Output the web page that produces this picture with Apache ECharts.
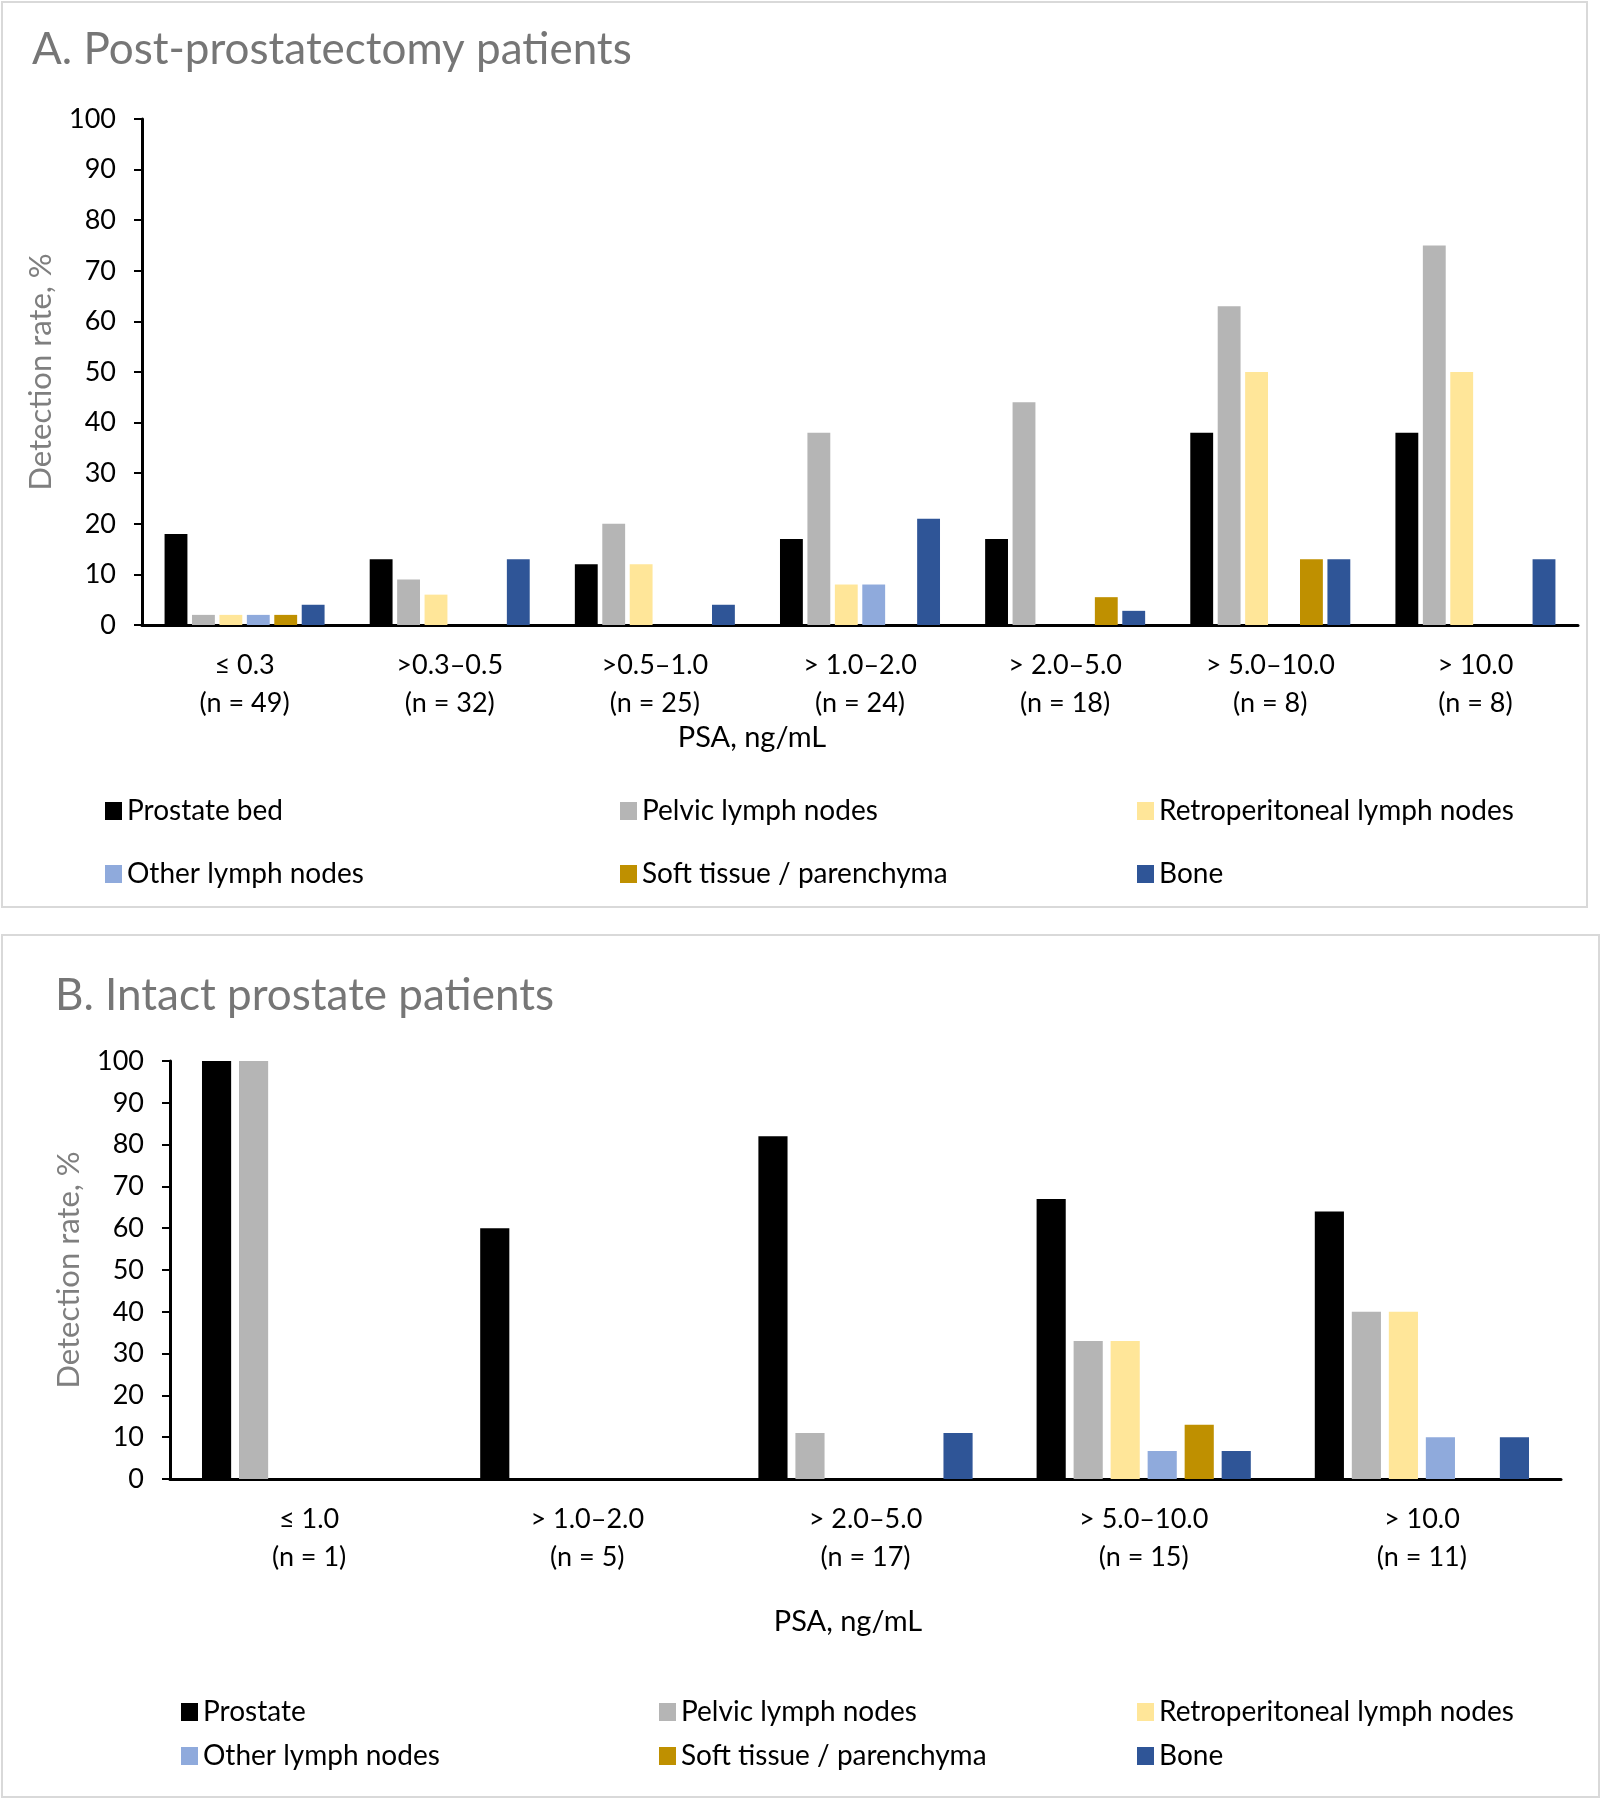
<!DOCTYPE html>
<html>
<head>
<meta charset="utf-8">
<script src="https://cdn.jsdelivr.net/npm/echarts@6/dist/echarts.min.js"></script>
<style>html,body{margin:0;padding:0;background:#fff}#c{width:1601px;height:1800px}</style>
</head>
<body>
<div id="c"></div>
<script>
// ---------- Data ----------
const rangesA = ['≤ 0.3', '>0.3–0.5', '>0.5–1.0', '> 1.0–2.0', '> 2.0–5.0', '> 5.0–10.0', '> 10.0'];
const nA = [49, 32, 25, 24, 18, 8, 8];
const prostateBedA = [18, 13, 12, 17, 17, 38, 38];
const pelvicA      = [2, 9, 20, 38, 44, 63, 75];
const retroA       = [2, 6, 12, 8, 0, 50, 50];
const otherA       = [2, 0, 0, 8, 0, 0, 0];
const softA        = [2, 0, 0, 0, 5.5, 13, 0];
const boneA        = [4, 13, 4, 21, 2.8, 13, 13];

const rangesB = ['≤ 1.0', '> 1.0–2.0', '> 2.0–5.0', '> 5.0–10.0', '> 10.0'];
const nB = [1, 5, 17, 15, 11];
const prostateB = [100, 60, 82, 67, 64];
const pelvicB   = [100, 0, 11, 33, 40];
const retroB    = [0, 0, 0, 33, 40];
const otherB    = [0, 0, 0, 6.7, 10];
const softB     = [0, 0, 0, 13, 0];
const boneB     = [0, 0, 11, 6.7, 10];

const yTicks = [0, 100, 10]; // min, max, interval

const seriesNamesA = ['Prostate bed', 'Pelvic lymph nodes', 'Retroperitoneal lymph nodes', 'Other lymph nodes', 'Soft tissue / parenchyma', 'Bone'];
const seriesNamesB = ['Prostate', 'Pelvic lymph nodes', 'Retroperitoneal lymph nodes', 'Other lymph nodes', 'Soft tissue / parenchyma', 'Bone'];
const colors = ['#000000', '#b5b5b5', '#ffe699', '#8faadc', '#bf9000', '#2f5597'];

// ---------- Build ----------
const FONT = 'Lato';
const catsA = rangesA.map((r, i) => r + '\n(n = ' + nA[i] + ')');
const catsB = rangesB.map((r, i) => r + '\n(n = ' + nB[i] + ')');
const dataA = [prostateBedA, pelvicA, retroA, otherA, softA, boneA];
const dataB = [prostateB, pelvicB, retroB, otherB, softB, boneB];

function xAx(gi, cats) {
  return {
    type: 'category', gridIndex: gi, data: cats,
    axisLine: { lineStyle: { color: '#000', width: 3 } },
    axisTick: { show: false },
    axisLabel: { color: '#000', fontSize: 27, fontFamily: FONT, lineHeight: 38, margin: 21, interval: 0 }
  };
}
function yAx(gi) {
  return {
    type: 'value', gridIndex: gi, min: yTicks[0], max: yTicks[1], interval: yTicks[2],
    name: 'Detection rate, %', nameLocation: 'middle', nameGap: 86,
    nameTextStyle: { color: '#7f7f7f', fontSize: 31, fontFamily: FONT },
    axisLine: { show: true, lineStyle: { color: '#000', width: 3 } },
    axisTick: { show: true, length: 8, lineStyle: { color: '#000', width: 2 } },
    axisLabel: { color: '#000', fontSize: 27, fontFamily: FONT, margin: 26 },
    splitLine: { show: false }
  };
}

const series = [];
dataA.forEach((d, i) => series.push({
  type: 'bar', name: seriesNamesA[i], xAxisIndex: 0, yAxisIndex: 0, data: d,
  itemStyle: { color: colors[i] }, barGap: '20%', barCategoryGap: '22%'
}));
dataB.forEach((d, i) => series.push({
  type: 'bar', name: seriesNamesB[i], xAxisIndex: 1, yAxisIndex: 1, data: d,
  itemStyle: { color: colors[i] }, barGap: '27%', barCategoryGap: '23%'
}));

const legends = [];
const legA_left = [105, 620, 1137], legA_rows = [811, 874];
const legB_left = [181, 659, 1137], legB_rows = [1712, 1756];
function addLeg(names, lefts, rows) {
  names.forEach((nm, i) => {
    legends.push({
      data: [nm], left: lefts[i % 3], top: rows[Math.floor(i / 3)] - 16, padding: 0,
      icon: 'rect', itemWidth: 17, itemHeight: 18, selectedMode: false,
      textStyle: { color: '#000', fontSize: 28, fontFamily: FONT, lineHeight: 32 }
    });
  });
}
addLeg(seriesNamesA, legA_left, legA_rows);
addLeg(seriesNamesB, legB_left, legB_rows);

const option = {
  backgroundColor: '#fff',
  animation: false,
  grid: [
    { left: 142, right: 23, top: 119, bottom: 1800 - 625, containLabel: false },
    { left: 170, right: 40, top: 1061, bottom: 1800 - 1479, containLabel: false }
  ],
  xAxis: [xAx(0, catsA), xAx(1, catsB)],
  yAxis: [yAx(0), yAx(1)],
  legend: legends,
  series: series,
  graphic: [
    { type: 'rect', shape: { x: 2, y: 2, width: 1585, height: 905 }, style: { fill: 'none', stroke: '#d9d9d9', lineWidth: 2 }, z: -1 },
    { type: 'rect', shape: { x: 2, y: 935, width: 1597, height: 862 }, style: { fill: 'none', stroke: '#d9d9d9', lineWidth: 2 }, z: -1 },
    { type: 'text', x: 32, y: 50, style: { text: 'A. Post-prostatectomy patients', fill: '#767676', font: '44px Lato', textVerticalAlign: 'middle' } },
    { type: 'text', x: 55, y: 996, style: { text: 'B. Intact prostate patients', fill: '#767676', font: '44px Lato', textVerticalAlign: 'middle' } },
    { type: 'text', x: 752, y: 738, style: { text: 'PSA, ng/mL', fill: '#000', font: '29px Lato', textAlign: 'center', textVerticalAlign: 'middle' } },
    { type: 'text', x: 848, y: 1622, style: { text: 'PSA, ng/mL', fill: '#000', font: '29px Lato', textAlign: 'center', textVerticalAlign: 'middle' } }
  ]
};

const chart = echarts.init(document.getElementById('c'), null, { renderer: 'canvas' });
chart.setOption(option);
</script>
</body>
</html>
